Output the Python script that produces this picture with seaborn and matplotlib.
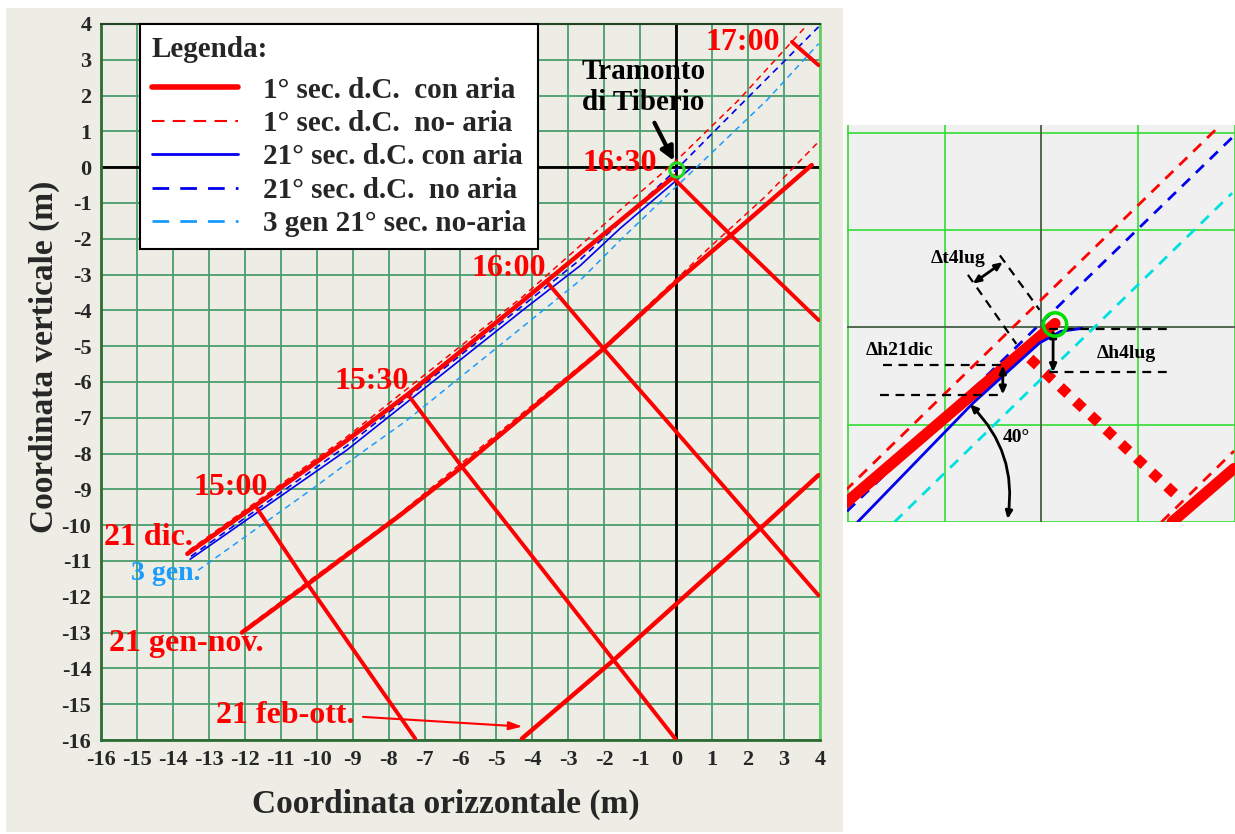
import matplotlib
matplotlib.use("Agg")
import matplotlib.pyplot as plt
import matplotlib.patches as mpatches
from matplotlib.lines import Line2D
import seaborn as sns

sns.set_style("white")
plt.rcParams["font.family"] = ["Liberation Serif", "DejaVu Serif"]
plt.rcParams["font.weight"] = "bold"
plt.rcParams["axes.unicode_minus"] = False

RED = "#ff0000"
BLUE = "#0000ee"
CYAN = "#1a9cff"

# ---- main chart data (metres) ----
# date curves
dic_con_x = [-13.6, -11.7, -9.16, -7.45, -4.25, -2.67, -0.05]
dic_con_y = [-10.8, -9.45, -7.63, -6.33, -3.72, -2.41, -0.25]
dic_no_x = [-13.55, -9.16, -4.25, -1.56, 0.0, 1.73, 3.64]
dic_no_y = [-10.7, -7.53, -3.6, -1.2, 0.18, 1.87, 3.97]
c21_con_x = [-13.52, -9.16, -4.25, -2.67, -1.56, 0.4]
c21_con_y = [-10.95, -7.9, -3.98, -2.75, -1.71, -0.03]
c21_no_x = [-13.5, -9.16, -4.25, -2.67, 0.02, 1.92, 3.96]
c21_no_y = [-10.87, -7.78, -3.85, -2.58, -0.05, 1.87, 3.92]
gen3_x = [-13.3, -10.1, -8.79, -7.49, -2.67, -1.56, 2.52, 3.96]
gen3_y = [-11.26, -8.97, -8.0, -7.07, -3.16, -2.04, 1.87, 3.45]
gennov_x = [-12.08, -10.25, -7.68, -5.96, -2.02, 0.0, 1.52, 3.77]
gennov_y = [-13.0, -11.65, -9.72, -8.37, -5.07, -3.2, -1.9, 0.06]
gennov_no_x = [-12.08, -7.68, -2.02, 0.0, 0.95, 2.5, 3.96]
gennov_no_y = [-12.95, -9.67, -5.02, -3.13, -2.22, -0.8, 0.71]
febott_x = [-4.29, -1.74, -0.03, 2.34, 3.96]
febott_y = [-15.96, -13.77, -12.23, -10.09, -8.6]

# hour lines
h1500_x = [-11.7, -10.25, -7.26]
h1500_y = [-9.47, -11.65, -15.96]
h1530_x = [-7.45, -5.96, -1.74, -0.03]
h1530_y = [-6.37, -8.37, -13.77, -15.96]
h1600_x = [-3.6, -2.02, 0.0, 2.34, 3.96]
h1600_y = [-3.2, -5.07, -7.39, -10.09, -11.96]
h1630_x = [-0.03, 1.52, 3.96]
h1630_y = [-0.35, -1.9, -4.27]
h1700_x = [3.22, 3.96]
h1700_y = [3.5, 2.85]

# labels: text, x, y
hour_labels = [("17:00", 1.84, 3.49), ("16:30", -1.56, 0.10), ("16:00", -4.67, -2.82),
               ("15:30", -8.47, -5.98), ("15:00", -12.38, -8.94)]
date_labels = [("21 dic.", -14.69, -10.34), ("21 gen-nov.", -13.63, -13.3),
               ("21 feb-ott.", -10.88, -15.31)]

legend_labels = ["1° sec. d.C.  con aria", "1° sec. d.C.  no- aria",
                 "21° sec. d.C. con aria", "21° sec. d.C.  no aria",
                 "3 gen 21° sec. no-aria"]

# ---- inset data ----
in_red_dash_x = [-2.03, 1.85]
in_red_dash_y = [-1.68, 2.08]
in_blue_dash_x = [-2.01, 1.97]
in_blue_dash_y = [-1.89, 1.95]
in_cyan_x = [-1.52, 1.97]
in_cyan_y = [-2.0, 1.38]
in_red_x = [-2.03, 0.14]
in_red_y = [-1.81, 0.04]
in_blue_x = [-1.90, -0.71, -0.02, 0.2, 0.42]
in_blue_y = [-2.0, -0.78, -0.16, -0.04, -0.01]
in_dot_x = [-0.12, 1.42]
in_dot_y = [-0.32, -1.75]
in_red2_x = [1.35, 1.99]
in_red2_y = [-2.0, -1.45]
in_red2d_x = [1.24, 1.99]
in_red2d_y = [-2.0, -1.27]


def line(ax, x, y, color, lw, ls="-", z=3):
    sns.lineplot(x=x, y=y, ax=ax, color=color, linewidth=lw, linestyle=ls,
                 sort=False, estimator=None, zorder=z, legend=False)


fig = plt.figure(figsize=(12.35, 8.34), dpi=100)
fig.patches.append(mpatches.Rectangle((6 / 1235, 2 / 834), 837 / 1235, 824 / 834,
                                      transform=fig.transFigure, facecolor="#edece5",
                                      edgecolor="none", zorder=-10))

ax = fig.add_axes([101 / 1235, 1 - 740 / 834, 719 / 1235, 716 / 834])
ax.set_facecolor("#edece5")
ax.set_xlim(-16, 4)
ax.set_ylim(-16, 4)
ax.set_xticks(range(-16, 5))
ax.set_yticks(range(-16, 5))
ax.grid(True, color="#4a9e6e", lw=1.3)
ax.set_axisbelow(True)
ax.tick_params(length=0, labelsize=16, pad=7)
for lab in ax.get_xticklabels() + ax.get_yticklabels():
    lab.set_fontweight("bold")
for s in ["left", "bottom"]:
    ax.spines[s].set_color("#2e6b35")
    ax.spines[s].set_linewidth(2)
ax.spines["right"].set_color("#66cc66")
ax.spines["right"].set_linewidth(2)
ax.spines["top"].set_color("#224422")
ax.spines["top"].set_linewidth(1.5)

ax.axhline(0, color="black", lw=2, zorder=2)
ax.axvline(0, color="black", lw=2, zorder=2)

dash = (0, (4, 3))
line(ax, gen3_x, gen3_y, CYAN, 1.1, dash)
line(ax, c21_con_x, c21_con_y, BLUE, 1.2)
line(ax, c21_no_x, c21_no_y, BLUE, 1.2, dash)
line(ax, dic_con_x, dic_con_y, RED, 3.2)
line(ax, dic_no_x, dic_no_y, RED, 1.1, dash)
line(ax, gennov_x, gennov_y, RED, 3.2)
line(ax, gennov_no_x, gennov_no_y, RED, 1.1, dash)
line(ax, febott_x, febott_y, RED, 3.2)
for hx, hy in [(h1500_x, h1500_y), (h1530_x, h1530_y), (h1600_x, h1600_y),
               (h1630_x, h1630_y), (h1700_x, h1700_y)]:
    line(ax, hx, hy, RED, 2.8)

ax.add_patch(mpatches.Circle((0.02, -0.08), 0.2, fill=False, ec="#22dd22", lw=2.2, zorder=6))

for t, x, y in hour_labels + date_labels:
    ax.text(x, y, t, color=RED, fontsize=23, fontweight="bold", ha="center", va="center", zorder=7)
ax.text(-14.19, -11.34, "3 gen.", color=CYAN, fontsize=20, fontweight="bold",
        ha="center", va="center", zorder=7)
ax.text(-0.92, 2.23, "Tramonto\ndi Tiberio", color="black", fontsize=21, fontweight="bold",
        ha="center", va="center", linespacing=1.2, zorder=7)
ax.annotate("", xy=(-0.03, 0.11), xytext=(-0.64, 1.31),
            arrowprops=dict(arrowstyle="-|>,head_length=0.8,head_width=0.4", color="black", lw=3))
ax.annotate("", xy=(-4.2, -15.63), xytext=(-8.79, -15.35),
            arrowprops=dict(arrowstyle="-|>,head_length=0.8,head_width=0.25", color=RED, lw=1.5))

ax.set_xlabel("Coordinata orizzontale (m)", fontsize=24, fontweight="bold")
ax.xaxis.set_label_coords(0.48, -0.068)
ax.set_ylabel("Coordinata verticale (m)", fontsize=24, fontweight="bold")
ax.yaxis.set_label_coords(-0.057, 0.535)

handles = [Line2D([], [], color=RED, lw=4),
           Line2D([], [], color=RED, lw=1.5, linestyle=(0, (6, 4))),
           Line2D([], [], color=BLUE, lw=2),
           Line2D([], [], color=BLUE, lw=2, linestyle=(0, (6, 4))),
           Line2D([], [], color=CYAN, lw=2, linestyle=(0, (6, 4)))]
leg = ax.legend(handles, legend_labels, loc="upper left", bbox_to_anchor=(0.0542, 1.0),
                borderaxespad=0, frameon=True, fancybox=False, framealpha=1,
                edgecolor="black", prop=dict(size=21, weight="bold"),
                title="Legenda:", title_fontproperties=dict(size=21, weight="bold"),
                alignment="left", handlelength=2.95, handletextpad=0.86,
                borderpad=0.4, labelspacing=0.22)
leg._legend_box.sep = 10
leg.get_frame().set_linewidth(1.5)
leg.set_zorder(8)

# ---- inset ----
ax2 = fig.add_axes([847 / 1235, 1 - 522 / 834, 388 / 1235, 397 / 834])
ax2.set_facecolor("#f0f0f0")
ax2.set_xlim(-2.01, 2.0)
ax2.set_ylim(-2.0, 2.08)
ax2.set_xticks(range(-2, 3))
ax2.set_yticks(range(-2, 3))
ax2.grid(True, color="#33dd33", lw=1.2)
ax2.set_axisbelow(True)
ax2.tick_params(length=0, labelbottom=False, labelleft=False)
for s in ax2.spines.values():
    s.set_visible(False)
ax2.axhline(0, color="#555555", lw=1.2, zorder=1)
ax2.axvline(0, color="#555555", lw=1.2, zorder=1)

line(ax2, in_red_dash_x, in_red_dash_y, RED, 2, (0, (4, 3)))
line(ax2, in_blue_dash_x, in_blue_dash_y, BLUE, 2, (0, (4, 3)))
line(ax2, in_cyan_x, in_cyan_y, "#00e0e0", 2, (0, (4, 3)))
line(ax2, in_red2d_x, in_red2d_y, RED, 2, (0, (4, 3)))
line(ax2, in_red_x, in_red_y, RED, 8)
line(ax2, in_blue_x, in_blue_y, BLUE, 2)
line(ax2, in_dot_x, in_dot_y, RED, 7.5, (0, (1, 1)))
line(ax2, in_red2_x, in_red2_y, RED, 8)

kd = dict(color="black", lw=1.6, linestyle=(0, (4, 3)), zorder=5)
ax2.plot([-0.76, -0.26], [0.54, -0.17], **kd)
ax2.plot([-0.43, -0.02], [0.74, 0.18], **kd)
ax2.plot([0.08, 1.34], [-0.02, -0.02], **kd)
ax2.plot([0.08, 1.35], [-0.46, -0.46], **kd)
ax2.plot([-1.64, -0.40], [-0.39, -0.39], **kd)
ax2.plot([-1.67, -0.40], [-0.69, -0.69], **kd)
ap = dict(arrowstyle="<|-|>,head_length=0.45,head_width=0.2", color="black", lw=2,
          shrinkA=0, shrinkB=0)
ax2.annotate("", xy=(-0.40, 0.67), xytext=(-0.71, 0.45), arrowprops=ap)
ax2.annotate("", xy=(0.12, -0.46), xytext=(0.12, -0.02), arrowprops=ap)
ax2.annotate("", xy=(-0.40, -0.69), xytext=(-0.40, -0.39), arrowprops=ap)
ax2.annotate("", xy=(-0.35, -1.97), xytext=(-0.74, -0.79),
             arrowprops=dict(ap, connectionstyle="arc3,rad=-0.25"))
ax2.add_patch(mpatches.Circle((0.14, 0.03), 0.12, fill=False, ec="#00dd00", lw=2.5, zorder=6))
for t, x, y in [("Δt4lug", -0.86, 0.71), ("Δh4lug", 0.88, -0.27),
                ("Δh21dic", -1.47, -0.24), ("40°", -0.26, -1.13)]:
    ax2.text(x, y, t, fontsize=14, fontweight="bold", ha="center", va="center",
             color="black", zorder=7)

fig.savefig("out.png", dpi=100, facecolor="white")
